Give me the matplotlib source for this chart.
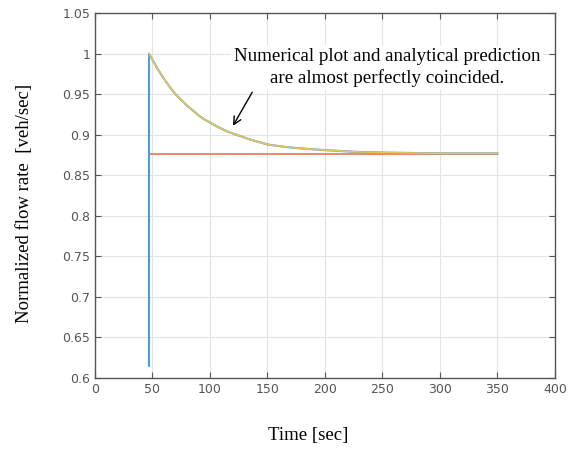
import matplotlib
matplotlib.use('Agg')
import matplotlib.pyplot as plt
import numpy as np

# numerical result
t_num = [47, 47, 51, 55, 60, 65, 70, 75, 80, 85, 90, 95, 100, 105, 115, 125,
         135, 150, 165, 180, 200, 225, 250, 275, 300, 325, 350]
q_num = [0.615, 1.0, 0.990, 0.980, 0.969, 0.959, 0.950, 0.943, 0.936, 0.930,
         0.924, 0.919, 0.915, 0.911, 0.904, 0.899, 0.894, 0.888, 0.885, 0.883,
         0.881, 0.879, 0.878, 0.8775, 0.877, 0.877, 0.877]

# analytical prediction
t_ana = t_num[1:]
q_ana = q_num[1:]

# steady state level
t_ss = [47, 350]
q_ss = [0.8765, 0.8765]

xticks = [0, 50, 100, 150, 200, 250, 300, 350, 400]
yticks = [0.6, 0.65, 0.7, 0.75, 0.8, 0.85, 0.9, 0.95, 1.0, 1.05]
ytick_labels = ['0.6', '0.65', '0.7', '0.75', '0.8', '0.85', '0.9', '0.95', '1', '1.05']

fig = plt.figure(figsize=(5.79, 4.53), dpi=100)
ax = fig.add_axes([0.164, 0.1656, 0.7945, 0.8055])

ax.plot(t_num, q_num, color='#4a9fd8', lw=1.5, zorder=3)
ax.plot(t_ss, q_ss, color='#ee8a6e', lw=1.5, zorder=2)
ax.plot(t_ana, q_ana, color='#e8c25a', lw=1.2, zorder=4)

ax.set_xlim(0, 400)
ax.set_ylim(0.6, 1.05)
ax.set_xticks(xticks)
ax.set_yticks(yticks)
ax.set_yticklabels(ytick_labels)
ax.grid(True, color='#e3e3e3', lw=0.8)
ax.set_axisbelow(True)
ax.tick_params(direction='in', top=True, right=True, labelsize=9,
               labelcolor='#555555', color='#555555', length=4)
for s in ax.spines.values():
    s.set_color('#555555')
    s.set_linewidth(1.0)

ax.set_xlabel('Time [sec]', family='Liberation Serif', fontsize=13.5)
ax.set_ylabel('Normalized flow rate  [veh/sec]', family='Liberation Serif',
              fontsize=13.5)
ax.xaxis.set_label_coords(0.463, -0.134)
ax.yaxis.set_label_coords(-0.135, 0.479)

ax.annotate('Numerical plot and analytical prediction\nare almost perfectly coincided.',
            xy=(120, 0.911), xytext=(254, 0.983), ha='center', va='center',
            family='Liberation Serif', fontsize=13.7, linespacing=1.3,
            bbox=dict(boxstyle='square,pad=0.15', fc='white', ec='none'),
            arrowprops=dict(arrowstyle='->', color='black', lw=1.0,
                            shrinkA=2, shrinkB=0,
                            relpos=(0.07, 0.0)))

fig.savefig('out.png', dpi=100)
